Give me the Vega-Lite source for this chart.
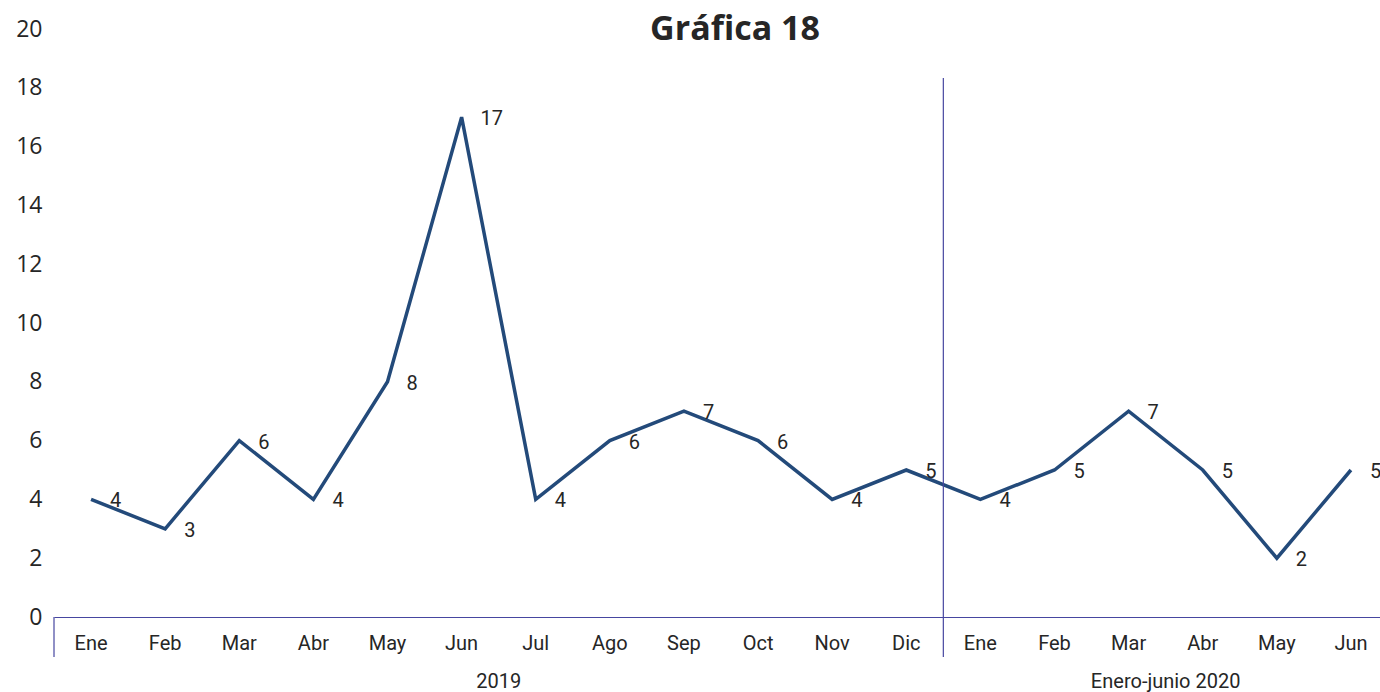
{
  "$schema": "https://vega.github.io/schema/vega-lite/v6.json",
  "width": 1326,
  "height": 588,
  "autosize": {"type": "none"},
  "padding": {"left": 54, "top": 29, "right": 0, "bottom": 75},
  "background": "white",
  "title": {"text": "Gráfica 18", "anchor": "middle", "fontSize": 34, "fontWeight": "bold", "font": "Open Sans", "color": "#262626", "dy": 33, "dx": 18},
  "config": {"view": {"stroke": null}},
  "data": {"values": [
    {"key": "Ene|2019", "mes": "Ene", "grupo": "2019", "valor": 4},
    {"key": "Feb|2019", "mes": "Feb", "grupo": "2019", "valor": 3},
    {"key": "Mar|2019", "mes": "Mar", "grupo": "2019", "valor": 6},
    {"key": "Abr|2019", "mes": "Abr", "grupo": "2019", "valor": 4},
    {"key": "May|2019", "mes": "May", "grupo": "2019", "valor": 8},
    {"key": "Jun|2019", "mes": "Jun", "grupo": "2019", "valor": 17},
    {"key": "Jul|2019", "mes": "Jul", "grupo": "2019", "valor": 4},
    {"key": "Ago|2019", "mes": "Ago", "grupo": "2019", "valor": 6},
    {"key": "Sep|2019", "mes": "Sep", "grupo": "2019", "valor": 7},
    {"key": "Oct|2019", "mes": "Oct", "grupo": "2019", "valor": 6},
    {"key": "Nov|2019", "mes": "Nov", "grupo": "2019", "valor": 4},
    {"key": "Dic|2019", "mes": "Dic", "grupo": "2019", "valor": 5},
    {"key": "Ene|2020", "mes": "Ene", "grupo": "Enero-junio 2020", "valor": 4},
    {"key": "Feb|2020", "mes": "Feb", "grupo": "Enero-junio 2020", "valor": 5},
    {"key": "Mar|2020", "mes": "Mar", "grupo": "Enero-junio 2020", "valor": 7},
    {"key": "Abr|2020", "mes": "Abr", "grupo": "Enero-junio 2020", "valor": 5},
    {"key": "May|2020", "mes": "May", "grupo": "Enero-junio 2020", "valor": 2},
    {"key": "Jun|2020", "mes": "Jun", "grupo": "Enero-junio 2020", "valor": 5}
  ]},
  "encoding": {
    "x": {
      "field": "key", "type": "nominal",
      "scale": {"type": "band", "paddingInner": 0, "paddingOuter": 0, "range": [0, 1334],
        "domain": ["Ene|2019","Feb|2019","Mar|2019","Abr|2019","May|2019","Jun|2019","Jul|2019","Ago|2019","Sep|2019","Oct|2019","Nov|2019","Dic|2019","Ene|2020","Feb|2020","Mar|2020","Abr|2020","May|2020","Jun|2020"]},
      "axis": {
        "title": null, "labelExpr": "split(datum.label, '|')[0]", "labelAngle": 0,
        "ticks": false, "labelPadding": 16, "labelFontSize": 20, "labelFont": "Roboto",
        "labelColor": "#262626", "domainColor": "#4646a0", "domainWidth": 1.2, "grid": false
      }
    }
  },
  "layer": [
    {
      "mark": {"type": "line", "color": "#234a7a", "strokeWidth": 3.5},
      "encoding": {
        "y": {"field": "valor", "type": "quantitative",
          "scale": {"domain": [0, 20], "nice": false, "zero": true},
          "axis": {"title": null, "values": [0,2,4,6,8,10,12,14,16,18,20], "domain": false, "ticks": false, "grid": false,
            "labelFontSize": 23, "labelFont": "Open Sans", "labelColor": "#262626", "labelPadding": 12}}
      }
    },
    {
      "mark": {"type": "text", "align": "left", "baseline": "middle", "dx": 19, "dy": 2, "fontSize": 20, "font": "Roboto", "color": "#262626"},
      "encoding": {
        "y": {"field": "valor", "type": "quantitative"},
        "text": {"field": "valor", "type": "quantitative"}
      }
    },
    {
      "transform": [{"filter": "datum.key == 'Dic|2019'"}],
      "mark": {"type": "rule", "color": "#4646a0", "strokeWidth": 1.2},
      "encoding": {
        "x": {"field": "key", "type": "nominal", "bandPosition": 1},
        "y": {"datum": -1.36},
        "y2": {"datum": 18.33}
      }
    },
    {
      "transform": [{"filter": "datum.key == 'Ene|2019'"}],
      "mark": {"type": "rule", "color": "#4646a0", "strokeWidth": 1.2},
      "encoding": {
        "x": {"field": "key", "type": "nominal", "bandPosition": 0},
        "y": {"datum": -1.36},
        "y2": {"datum": 0}
      }
    },
    {
      "transform": [{"filter": "datum.key == 'Jun|2019' || datum.key == 'Mar|2020'"}],
      "mark": {"type": "text", "align": "center", "baseline": "middle", "fontSize": 20, "font": "Roboto", "color": "#262626"},
      "encoding": {
        "x": {"field": "key", "type": "nominal", "bandPosition": 1},
        "y": {"datum": -2.2},
        "text": {"field": "grupo", "type": "nominal"}
      }
    }
  ]
}
